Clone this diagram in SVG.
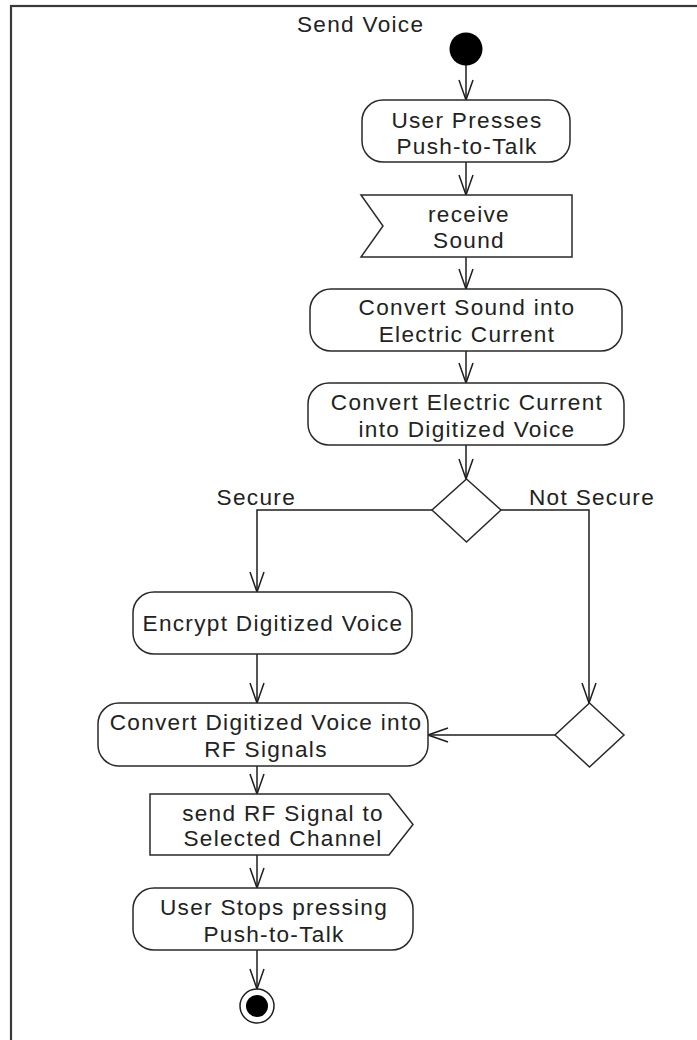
<svg xmlns="http://www.w3.org/2000/svg" width="697" height="1040" viewBox="0 0 697 1040">
  <style>
    .frame { fill: none; stroke: #3a3a3a; stroke-width: 2.2; }
    .shape { fill: #ffffff; stroke: #2a2a2a; stroke-width: 1.5; }
    .edge { fill: none; stroke: #1e1e1e; stroke-width: 1.5; }
    .lbl { font-family: "Liberation Sans", Arial, sans-serif; font-size: 22.6px; fill: #222222; letter-spacing: 1.3px; }
    .mid { text-anchor: middle; }
  </style>
  <defs>
    <marker id="open" viewBox="0 0 22 16" refX="21" refY="8" markerWidth="22" markerHeight="16" markerUnits="userSpaceOnUse" orient="auto">
      <path d="M1 1 L21 8 L1 15" fill="none" stroke="#1e1e1e" stroke-width="1.5"/>
    </marker>
  </defs>

  <rect class="frame" x="11" y="6" width="720" height="1080"/>
  <text class="lbl" x="297" y="32">Send Voice</text>

  <g id="connectors">
    <line class="edge" x1="466" y1="65" x2="466" y2="100" marker-end="url(#open)"/>
    <line class="edge" x1="466" y1="162" x2="466" y2="195" marker-end="url(#open)"/>
    <line class="edge" x1="466" y1="257" x2="466" y2="289" marker-end="url(#open)"/>
    <line class="edge" x1="466" y1="351" x2="466" y2="383" marker-end="url(#open)"/>
    <line class="edge" x1="466" y1="445" x2="466" y2="479" marker-end="url(#open)"/>
    <polyline class="edge" points="432,510 257,510 257,592" marker-end="url(#open)"/>
    <polyline class="edge" points="501,510 589,510 589,703" marker-end="url(#open)"/>
    <line class="edge" x1="257" y1="654" x2="257" y2="703" marker-end="url(#open)"/>
    <line class="edge" x1="555" y1="735" x2="428" y2="735" marker-end="url(#open)"/>
    <line class="edge" x1="257" y1="766" x2="257" y2="794" marker-end="url(#open)"/>
    <line class="edge" x1="257" y1="855" x2="257" y2="888" marker-end="url(#open)"/>
    <line class="edge" x1="257" y1="950" x2="257" y2="989" marker-end="url(#open)"/>
    <text class="lbl" x="296" y="505" text-anchor="end">Secure</text>
    <text class="lbl" x="529" y="505">Not Secure</text>
  </g>

  <g id="start">
    <circle cx="466" cy="49" r="16.5" fill="#000000"/>
  </g>

  <g id="user-presses">
    <rect class="shape" x="362" y="100" width="208" height="62" rx="21" ry="21"/>
    <text class="lbl mid" x="467" y="128">User Presses</text>
    <text class="lbl mid" x="467" y="154">Push-to-Talk</text>
  </g>

  <g id="receive-sound">
    <path class="shape" d="M361 195 H572 V257 H361 L383 226 Z"/>
    <text class="lbl mid" x="469" y="222">receive</text>
    <text class="lbl mid" x="469" y="248">Sound</text>
  </g>

  <g id="sound-to-current">
    <rect class="shape" x="310" y="289" width="312" height="62" rx="21" ry="21"/>
    <text class="lbl mid" x="467" y="315">Convert Sound into</text>
    <text class="lbl mid" x="467" y="342">Electric Current</text>
  </g>

  <g id="current-to-digital">
    <rect class="shape" x="308" y="383" width="316" height="62" rx="21" ry="21"/>
    <text class="lbl mid" x="467" y="410">Convert Electric Current</text>
    <text class="lbl mid" x="467" y="437">into Digitized Voice</text>
  </g>

  <g id="secure-decision">
    <path class="shape" d="M466.5 479 L501 510 L466.5 542 L432 510 Z"/>
  </g>

  <g id="encrypt">
    <rect class="shape" x="133" y="592" width="279" height="62" rx="21" ry="21"/>
    <text class="lbl mid" x="273" y="631">Encrypt Digitized Voice</text>
  </g>

  <g id="merge">
    <path class="shape" d="M589.5 703 L624 735 L589.5 767 L555 735 Z"/>
  </g>

  <g id="digital-to-rf">
    <rect class="shape" x="98" y="703" width="330" height="63" rx="21" ry="21"/>
    <text class="lbl mid" x="266" y="730">Convert Digitized Voice into</text>
    <text class="lbl mid" x="266" y="757">RF Signals</text>
  </g>

  <g id="send-rf">
    <path class="shape" d="M150 794 H389 L413 824.5 L389 855 H150 Z"/>
    <text class="lbl mid" x="283" y="821">send RF Signal to</text>
    <text class="lbl mid" x="283" y="846">Selected Channel</text>
  </g>

  <g id="user-stops">
    <rect class="shape" x="133" y="888" width="280" height="62" rx="21" ry="21"/>
    <text class="lbl mid" x="274" y="915">User Stops pressing</text>
    <text class="lbl mid" x="274" y="942">Push-to-Talk</text>
  </g>

  <g id="end">
    <circle cx="257" cy="1006" r="17" fill="#ffffff" stroke="#1e1e1e" stroke-width="1.5"/>
    <circle cx="257" cy="1006" r="11" fill="#000000"/>
  </g>
</svg>
